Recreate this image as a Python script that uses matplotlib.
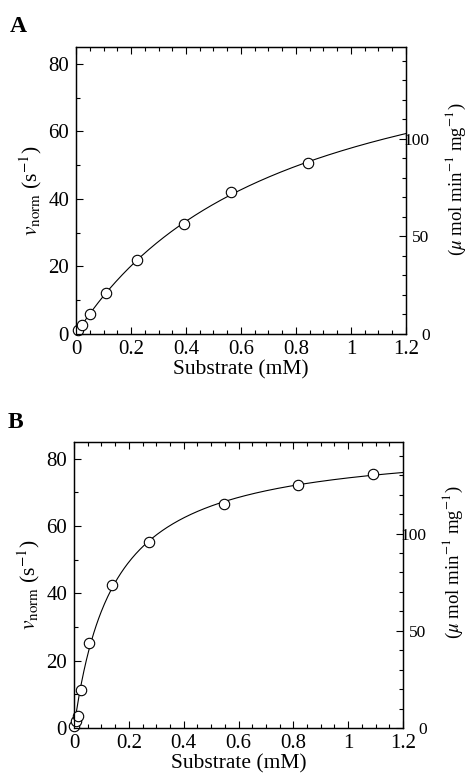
import numpy as np
import matplotlib
matplotlib.use("Agg")
import matplotlib.pyplot as plt
from matplotlib.ticker import MultipleLocator, FuncFormatter

plt.rcParams["font.family"] = ["Liberation Serif", "DejaVu Serif"]
plt.rcParams["mathtext.fontset"] = "stix"
plt.rcParams["font.size"] = 15

# panel A data (substrate mM, v_norm s^-1)
a_substrate = [0.008, 0.023, 0.051, 0.109, 0.223, 0.394, 0.564, 0.845]
a_rate = [1.1, 2.7, 5.8, 12.2, 21.8, 32.7, 42.2, 50.6]

# panel B data
b_substrate = [0.001, 0.007, 0.013, 0.025, 0.055, 0.138, 0.274, 0.546, 0.817, 1.091]
b_rate = [0.5, 2.0, 3.5, 11.3, 25.3, 42.6, 55.2, 66.6, 72.2, 75.5]

# s^-1 -> umol min^-1 mg^-1
unit_factor = 1.73

W, H = 471, 776


def mmFit(s, v):
    # least-squares Michaelis-Menten fit, Vmax solved for each Km
    s = np.asarray(s)
    v = np.asarray(v)
    best = None
    for km in np.linspace(0.005, 3.0, 6000):
        f = s / (km + s)
        vmax = np.sum(f * v) / np.sum(f * f)
        err = np.sum((vmax * f - v) ** 2)
        if best is None or err < best[0]:
            best = (err, vmax, km)
    return best[1], best[2]


def px(left, top, right, bottom):
    return [left / W, 1 - bottom / H, (right - left) / W, (bottom - top) / H]


def plotPanel(fig, rect, s, v, letter, letter_xy, rlabel_y):
    ax = fig.add_axes(px(*rect))
    vmax, km = mmFit(s, v)
    xs = np.linspace(0, 1.2, 400)
    ax.plot(xs, vmax * xs / (km + xs), color="black", linewidth=0.8, zorder=2)
    ax.plot(s, v, linestyle="none", marker="o", markersize=7.5,
            markerfacecolor="white", markeredgecolor="black",
            markeredgewidth=0.8, clip_on=False, zorder=3)

    ax.set_xlim(0, 1.2)
    ax.set_ylim(0, 85)
    ax.xaxis.set_major_locator(MultipleLocator(0.2))
    ax.xaxis.set_minor_locator(MultipleLocator(0.05))
    ax.xaxis.set_major_formatter(FuncFormatter(lambda x, p: "%g" % round(x, 2)))
    ax.yaxis.set_major_locator(MultipleLocator(20))
    ax.yaxis.set_minor_locator(MultipleLocator(10))
    ax.tick_params(which="both", direction="in", top=True, right=False,
                   width=0.8, labelsize=15)
    ax.tick_params(axis="y", which="both", pad=5)
    ax.tick_params(axis="x", which="both", pad=4)
    ax.tick_params(which="major", length=5)
    ax.tick_params(which="minor", length=3)
    for sp in ax.spines.values():
        sp.set_linewidth(0.9)

    ax.set_xlabel("Substrate (mM)", fontsize=15.5, labelpad=1)
    ax.set_ylabel(r"$v_{\rm norm}$ (s$^{-1}$)", fontsize=15.5, labelpad=3)

    ax2 = ax.twinx()
    ax2.set_ylim(0, 85 * unit_factor)
    ax2.yaxis.set_major_locator(MultipleLocator(50))
    ax2.yaxis.set_minor_locator(MultipleLocator(10))
    ax2.tick_params(which="both", direction="in", width=0.8, labelsize=12.5, pad=17)
    ax2.tick_params(which="major", length=5)
    ax2.tick_params(which="minor", length=3)
    for lab in ax2.get_yticklabels():
        lab.set_horizontalalignment("right")
    for sp in ax2.spines.values():
        sp.set_linewidth(0.9)
    ax2.set_ylabel(r"($\mu$ mol min$^{-1}$ mg$^{-1}$)", fontsize=13.5)
    ax2.yaxis.set_label_coords(1.114, rlabel_y)

    fig.text(letter_xy[0] / W, 1 - letter_xy[1] / H, letter,
             fontsize=17, fontweight="bold", ha="left", va="baseline")
    return ax


def main():
    fig = plt.figure(figsize=(W / 100, H / 100), dpi=100)
    plotPanel(fig, (76, 47, 406, 334), a_substrate, a_rate, "A", (10, 32), 0.54)
    plotPanel(fig, (74, 442, 403, 728), b_substrate, b_rate, "B", (8, 428), 0.58)
    fig.savefig("out.png", dpi=100)


if __name__ == "__main__":
    main()
